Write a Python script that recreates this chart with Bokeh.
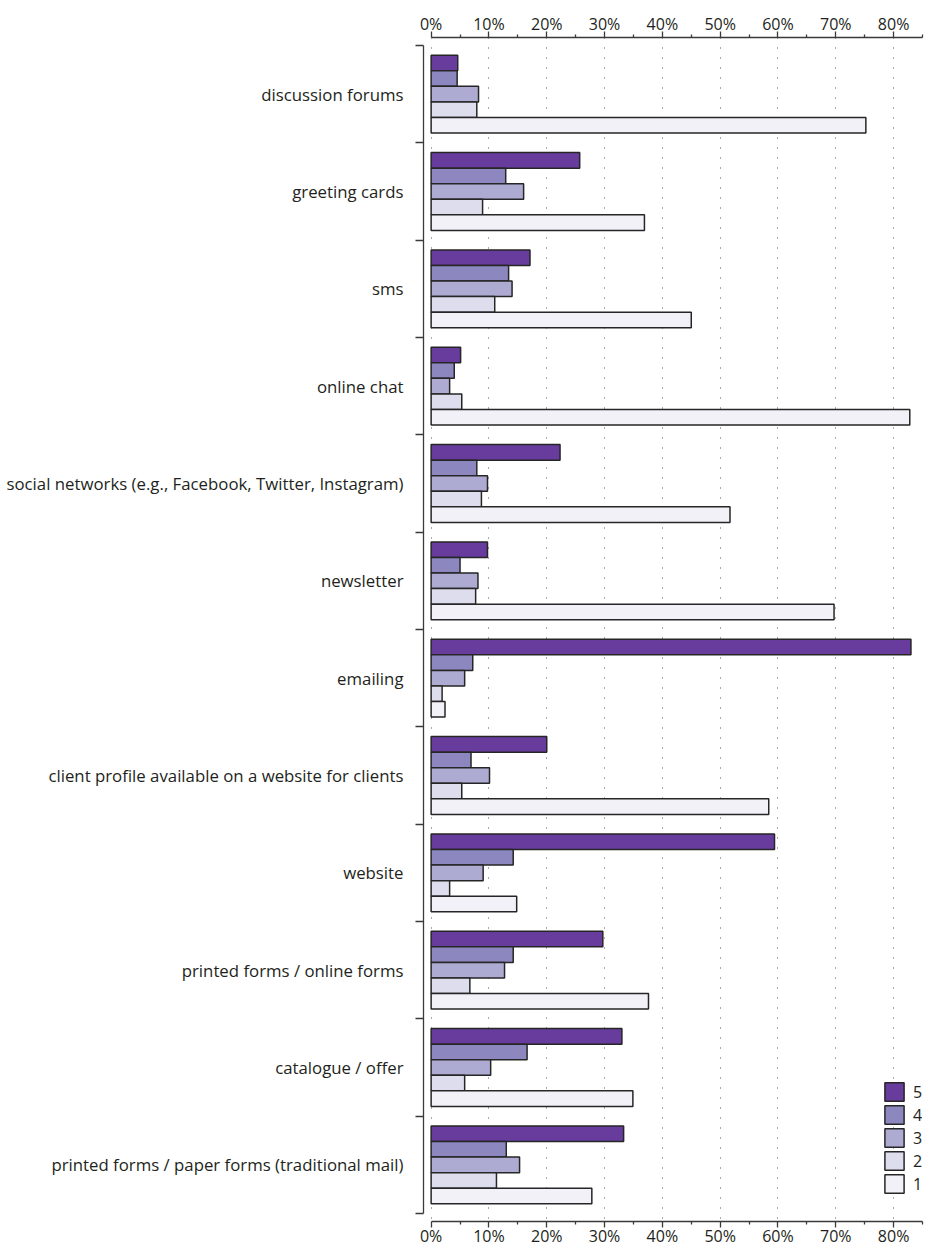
from bokeh.plotting import figure
from bokeh.models import (LinearAxis, FixedTicker, PrintfTickFormatter, Range1d,
                          ColumnDataSource)
from bokeh.transform import dodge
from bokeh.embed import file_html
from bokeh.resources import INLINE

categories = [
    "discussion forums",
    "greeting cards",
    "sms",
    "online chat",
    "social networks (e.g., Facebook, Twitter, Instagram)",
    "newsletter",
    "emailing",
    "client profile available on a website for clients",
    "website",
    "printed forms / online forms",
    "catalogue / offer",
    "printed forms / paper forms (traditional mail)",
]
series_names = ["5", "4", "3", "2", "1"]
s5 = [4.6, 25.7, 17.1, 5.1, 22.3, 9.75, 83.0, 20.0, 59.4, 29.7, 33.0, 33.3]
s4 = [4.5, 12.9, 13.4, 4.0, 7.9, 5.0, 7.2, 6.9, 14.2, 14.2, 16.6, 13.0]
s3 = [8.2, 16.0, 14.0, 3.2, 9.75, 8.1, 5.8, 10.1, 9.0, 12.7, 10.3, 15.3]
s2 = [7.9, 8.9, 11.0, 5.3, 8.7, 7.7, 1.9, 5.3, 3.2, 6.7, 5.8, 11.3]
s1 = [75.2, 36.9, 45.0, 82.8, 51.7, 69.7, 2.4, 58.4, 14.8, 37.6, 34.9, 27.8]
colors = ["#673c9c", "#8d87c0", "#aeabd2", "#dedded", "#f3f1f8"]
x_ticks = [0, 10, 20, 30, 40, 50, 60, 70, 80]
x_minor_ticks = [5, 15, 25, 35, 45, 55, 65, 75, 85]

FONT = "Open Sans"
TEXT = "#231f20"
AX = "#3a3a3a"

n = len(categories)
pos = list(range(n))
boundaries = [i - 0.5 for i in range(n + 1)]
src = ColumnDataSource(dict(pos=pos, s5=s5, s4=s4, s3=s3, s2=s2, s1=s1))

pad = 0.082
p = figure(width=930, height=1249,
           x_range=Range1d(-1.32, 85), y_range=Range1d(n - 0.5 + pad, -0.5 - pad),
           x_axis_location="above", y_axis_location="left",
           output_backend="svg", toolbar_location=None,
           min_border_left=423, min_border_top=37, min_border_right=8,
           min_border_bottom=26)
p.outline_line_color = None
p.background_fill_color = None
p.border_fill_color = "white"

bar_h = 0.16
offsets = [-0.32, -0.16, 0.0, 0.16, 0.32]
cols = ["s5", "s4", "s3", "s2", "s1"]
for col, name, color, off in zip(cols, series_names, colors, offsets):
    p.hbar(y=dodge("pos", off, range=p.y_range), left=0, right=col, height=bar_h,
           source=src, fill_color=color, line_color="#262626", line_width=1.5,
           legend_label=name)

# x axes (top and bottom)
bottom = LinearAxis()
p.add_layout(bottom, "below")
for ax in p.xaxis:
    ax.ticker = FixedTicker(ticks=x_ticks, minor_ticks=x_minor_ticks)
    ax.formatter = PrintfTickFormatter(format="%d%%")
    ax.bounds = (0, 85)
    ax.major_tick_in = 0
    ax.major_tick_out = 6
    ax.minor_tick_in = 0
    ax.minor_tick_out = 3
    ax.major_label_standoff = -3
    ax.axis_line_color = AX
    ax.axis_line_width = 1.3
    ax.major_tick_line_color = AX
    ax.minor_tick_line_color = AX
    ax.major_tick_line_width = 1.3
    ax.minor_tick_line_width = 1.3
    ax.major_label_text_font = FONT
    ax.major_label_text_font_size = "16px"
    ax.major_label_text_color = TEXT

# y axis: labels at category centres, ticks at boundaries
ya = p.yaxis[0]
ya.ticker = FixedTicker(ticks=pos, minor_ticks=boundaries)
ya.major_label_overrides = {i: c for i, c in zip(pos, categories)}
ya.bounds = (-0.5, n - 0.5)
ya.major_tick_in = 0
ya.major_tick_out = 0
ya.minor_tick_in = 0
ya.minor_tick_out = 8
ya.major_label_standoff = 12
ya.axis_line_color = AX
ya.axis_line_width = 1.3
ya.minor_tick_line_color = AX
ya.minor_tick_line_width = 1.3
ya.major_label_text_font = FONT
ya.major_label_text_font_size = "16.8px"
ya.major_label_text_color = TEXT

p.ygrid.visible = False
p.xgrid.ticker = FixedTicker(ticks=x_ticks)
p.xgrid.grid_line_color = "#555555"
p.xgrid.grid_line_width = 1
p.xgrid.grid_line_dash = "1 9"

lg = p.legend[0]
lg.location = (459, 26)
lg.border_line_color = None
lg.background_fill_alpha = 0
lg.padding = 2
lg.margin = 0
lg.spacing = 0
lg.glyph_width = 24
lg.glyph_height = 23
lg.label_height = 23
lg.label_width = 9
lg.label_standoff = 7
lg.label_text_font = FONT
lg.label_text_font_size = "16px"
lg.label_text_color = TEXT

open("out.html", "w").write(file_html(p, INLINE))
